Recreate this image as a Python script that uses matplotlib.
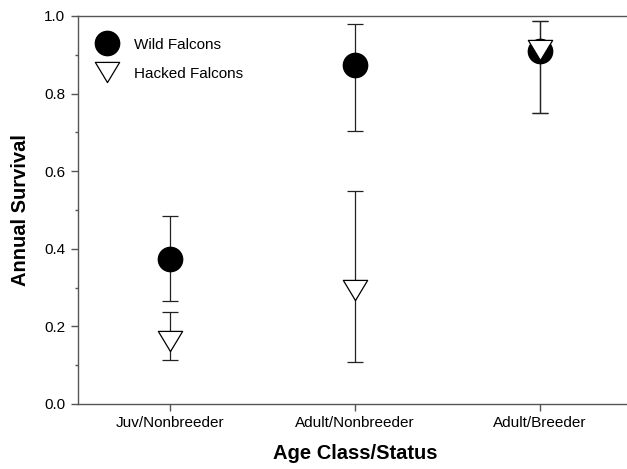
import matplotlib
matplotlib.use("Agg")
import matplotlib.pyplot as plt
from matplotlib.path import Path
import numpy as np

categories = ["Juv/Nonbreeder", "Adult/Nonbreeder", "Adult/Breeder"]
wild = [0.373, 0.873, 0.910]
wild_lo = [0.266, 0.704, 0.749]
wild_hi = [0.485, 0.979, 0.988]
hacked = [0.163, 0.293, 0.912]
hacked_lo = [0.113, 0.107, 0.749]
hacked_hi = [0.237, 0.550, 0.988]
yticks = [0.0, 0.2, 0.4, 0.6, 0.8, 1.0]

plt.rcParams['font.family'] = ['Liberation Sans', 'DejaVu Sans']

fig = plt.figure(figsize=(6.27, 4.69), dpi=100)
ax = fig.add_axes([0.1244, 0.1386, 0.884, 0.8273])

x = np.arange(len(categories))
ecol = '#222222'
tri = Path([(-1, 0.83), (1, 0.83), (0, -0.83), (-1, 0.83)],
           [Path.MOVETO, Path.LINETO, Path.LINETO, Path.CLOSEPOLY])

wild_err = [np.array(wild) - np.array(wild_lo), np.array(wild_hi) - np.array(wild)]
hack_err = [np.array(hacked) - np.array(hacked_lo), np.array(hacked_hi) - np.array(hacked)]

ax.errorbar(x, wild, yerr=wild_err, fmt='none', ecolor=ecol, elinewidth=0.9,
            capsize=6, capthick=0.9, zorder=2)
ax.errorbar(x, hacked, yerr=hack_err, fmt='none', ecolor=ecol, elinewidth=0.9,
            capsize=6, capthick=0.9, zorder=2)
ax.plot(x, wild, 'o', ms=17.5, color='black', mec='black', ls='none',
        label='Wild Falcons', zorder=3)
ax.plot(x, hacked, marker=tri, ms=17.5, mfc='white', mec='black', mew=0.9,
        ls='none', label='Hacked Falcons', zorder=4)

ax.set_xlim(-0.5, 2.5)
ax.set_ylim(0, 1.0)
ax.set_xticks(x)
ax.set_xticklabels(categories, fontsize=11)
ax.set_yticks(yticks)
ax.set_yticklabels([f"{v:.1f}" for v in yticks], fontsize=11)
ax.set_yticks(np.arange(0.1, 1.0, 0.2), minor=True)

for s in ax.spines.values():
    s.set_color('#555555')
    s.set_linewidth(1.0)

ax.tick_params(axis='both', which='major', direction='out', length=5, width=1,
               color='#555555', pad=4)
ax.tick_params(axis='y', which='minor', direction='out', length=2.5, width=1,
               color='#555555')

ax.set_xlabel('Age Class/Status', fontsize=14.5, fontweight='bold', labelpad=10)
ax.set_ylabel('Annual Survival', fontsize=14.5, fontweight='bold', labelpad=10)

leg = ax.legend(loc='upper left', bbox_to_anchor=(0.0055, 0.972), frameon=False,
                fontsize=11, numpoints=1, handletextpad=0.77, labelspacing=1.0,
                borderaxespad=0.3, handlelength=2.0)

fig.savefig('out.png', dpi=100)
